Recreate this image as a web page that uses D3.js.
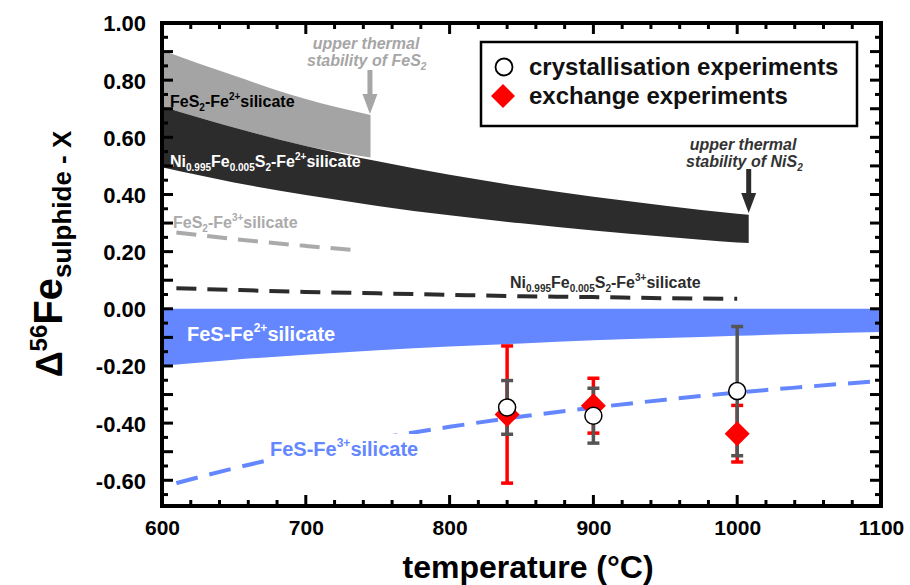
<!DOCTYPE html>
<html>
<head>
<meta charset="utf-8">
<script src="https://cdn.jsdelivr.net/npm/d3@7/dist/d3.min.js"></script>
<style>
  html, body { margin: 0; padding: 0; background: #fff; }
  svg { display: block; font-family: "Liberation Sans", Arial, sans-serif; font-weight: bold; }
</style>
</head>
<body>
<svg id="chart" width="910" height="585"></svg>
<script>
// ---------------- data ----------------
const tempTicks = [600, 700, 800, 900, 1000, 1100];
const yTickValues = [1.0, 0.8, 0.6, 0.4, 0.2, 0.0, -0.2, -0.4, -0.6];
const yTickLabels = ["1.00", "0.80", "0.60", "0.40", "0.20", "0.00", "-0.20", "-0.40", "-0.60"];

// FeS2 - Fe2+ silicate band (light grey)
const fes2Temp  = [600, 650, 700, 745];
const fes2Upper = [0.905, 0.816, 0.734, 0.678];
const fes2Lower = [0.708, 0.634, 0.570, 0.529];

// Ni0.995Fe0.005S2 - Fe2+ silicate band (dark)
const nis2Temp  = [600, 650, 700, 750, 800, 850, 900, 950, 1000, 1008];
const nis2Upper = [0.708, 0.634, 0.570, 0.516, 0.469, 0.428, 0.392, 0.361, 0.333, 0.329];
const nis2Lower = [0.495, 0.442, 0.398, 0.360, 0.327, 0.299, 0.274, 0.252, 0.232, 0.230];

// FeS - Fe2+ silicate band (blue)
const fesTemp  = [600, 650, 700, 750, 800, 850, 900, 950, 1000, 1050, 1100];
const fesUpper = [0.000, 0.000, 0.000, 0.000, 0.000, 0.000, 0.000, 0.000, 0.000, 0.000, 0.000];
const fesLower = [-0.199, -0.178, -0.161, -0.145, -0.132, -0.121, -0.110, -0.102, -0.094, -0.087, -0.081];

// dashed Fe3+ curves
const fes2Fe3Temp  = [610, 650, 700, 735];
const fes2Fe3Value = [0.267, 0.244, 0.220, 0.205];
const niFe3Temp  = [610, 650, 700, 750, 800, 850, 900, 950, 1000];
const niFe3Value = [0.072, 0.066, 0.059, 0.054, 0.049, 0.044, 0.041, 0.037, 0.035];
const fesFe3Temp  = [610, 650, 700, 750, 800, 850, 900, 950, 1000, 1050, 1100];
const fesFe3Value = [-0.610, -0.558, -0.502, -0.454, -0.413, -0.377, -0.346, -0.318, -0.293, -0.272, -0.252];

// experiments
const crystTemp  = [840, 900, 1000];
const crystValue = [-0.345, -0.374, -0.288];
const crystErr   = [0.094, 0.096, 0.226];
const exchTemp  = [840, 900, 1000];
const exchValue = [-0.370, -0.339, -0.437];
const exchErr   = [0.240, 0.096, 0.099];

// ---------------- layout ----------------
const L = 162, R = 881, T = 23, B = 506;
const svg = d3.select("#chart");
const x = d3.scaleLinear().domain([600, 1100]).range([L, R]);
const y = d3.scaleLinear().domain([-0.69, 1.0]).range([B, T]);

const C = {
  grey: "#a4a4a4", dark: "#2c2c2c", blue: "#6487ff", red: "#ff0000", err: "#555555"
};

svg.append("clipPath").attr("id", "plotclip")
  .append("rect").attr("x", L).attr("y", T).attr("width", R - L).attr("height", B - T);

const plot = svg.append("g").attr("clip-path", "url(#plotclip)");

function band(temps, up, lo) {
  const pts = temps.map((t, i) => ({ t, u: up[i], l: lo[i] }));
  return d3.area().x(d => x(d.t)).y0(d => y(d.l)).y1(d => y(d.u)).curve(d3.curveMonotoneX)(pts);
}
function line(temps, vals) {
  const pts = temps.map((t, i) => ({ t, v: vals[i] }));
  return d3.line().x(d => x(d.t)).y(d => y(d.v)).curve(d3.curveMonotoneX)(pts);
}

plot.append("path").attr("d", band(fes2Temp, fes2Upper, fes2Lower)).attr("fill", C.grey);
plot.append("path").attr("d", band(nis2Temp, nis2Upper, nis2Lower)).attr("fill", C.dark);
plot.append("path").attr("d", band(fesTemp, fesUpper, fesLower)).attr("fill", C.blue);

plot.append("path").attr("d", line(fes2Fe3Temp, fes2Fe3Value)).attr("fill", "none")
  .attr("stroke", "#aaaaaa").attr("stroke-width", 4).attr("stroke-dasharray", "20,11");
plot.append("path").attr("d", line(niFe3Temp, niFe3Value)).attr("fill", "none")
  .attr("stroke", C.dark).attr("stroke-width", 4).attr("stroke-dasharray", "20,11");
plot.append("path").attr("d", line(fesFe3Temp, fesFe3Value)).attr("fill", "none")
  .attr("stroke", C.blue).attr("stroke-width", 4).attr("stroke-dasharray", "22,12");

// ---------- band labels ----------
const labels = svg.append("g");
function chem(g, x0, y0, size, fill, parts) {
  const t = g.append("text").attr("x", x0).attr("y", y0).attr("font-size", size).attr("fill", fill);
  const small = Math.round(size * 0.62);
  let level = 0;
  parts.forEach(p => {
    const [txt, kind] = p;
    const target = kind === "sub" ? size * 0.25 : kind === "sup" ? -size * 0.45 : 0;
    const s = t.append("tspan").text(txt).attr("dy", target - level);
    if (kind) s.attr("font-size", small);
    level = target;
  });
  return t;
}
chem(labels, 170, 107, 16, "#000", [["FeS"], ["2", "sub"], ["-Fe"], ["2+", "sup"], ["silicate"]]);
chem(labels, 170, 167, 16, "#fff", [["Ni"], ["0.995", "sub"], ["Fe"], ["0.005", "sub"], ["S"], ["2", "sub"], ["-Fe"], ["2+", "sup"], ["silicate"]]);
chem(labels, 173, 228, 16, "#aaaaaa", [["FeS"], ["2", "sub"], ["-Fe"], ["3+", "sup"], ["silicate"]]);
chem(labels, 510, 288, 16, C.dark, [["Ni"], ["0.995", "sub"], ["Fe"], ["0.005", "sub"], ["S"], ["2", "sub"], ["-Fe"], ["3+", "sup"], ["silicate"]]);
chem(labels, 187, 341, 20, "#fff", [["FeS-Fe"], ["2+", "sup"], ["silicate"]]);
labels.append("rect").attr("x", 264).attr("y", 434).attr("width", 162).attr("height", 30).attr("fill", "#fff");
chem(labels, 270, 456, 20, C.blue, [["FeS-Fe"], ["3+", "sup"], ["silicate"]]);

// ---------- annotations ----------
function arrow(g, cx, y0, y1, color) {
  g.append("line").attr("x1", cx).attr("x2", cx).attr("y1", y0).attr("y2", y1 - 18)
    .attr("stroke", color).attr("stroke-width", 5);
  g.append("path").attr("d", `M${cx - 7.5},${y1 - 20} L${cx + 7.5},${y1 - 20} L${cx},${y1} Z`).attr("fill", color);
}
const ann = svg.append("g").attr("font-style", "italic");
ann.append("text").attr("x", 366).attr("y", 49).attr("text-anchor", "middle").attr("font-size", 16)
  .attr("fill", "#a6a6a6").text("upper thermal");
chem(ann, 307, 66, 16, "#a6a6a6", [["stability of FeS"], ["2", "sub"]]);
arrow(ann, x(744.6), 70, 114, "#a6a6a6");

ann.append("text").attr("x", 743).attr("y", 150).attr("text-anchor", "middle").attr("font-size", 16)
  .attr("fill", "#333").text("upper thermal");
chem(ann, 686, 167, 16, "#333", [["stability of NiS"], ["2", "sub"]]);
arrow(ann, x(1008), 169, 213, "#2c2c2c");

// ---------- error bars & points ----------
const pts = svg.append("g");
function errBars(temps, vals, errs, color) {
  temps.forEach((t, i) => {
    const cx = x(t), y0 = y(vals[i] + errs[i]), y1 = y(vals[i] - errs[i]);
    pts.append("line").attr("x1", cx).attr("x2", cx).attr("y1", y0).attr("y2", y1)
      .attr("stroke", color).attr("stroke-width", 3.5);
    [y0, y1].forEach(yy => pts.append("line").attr("x1", cx - 6).attr("x2", cx + 6)
      .attr("y1", yy).attr("y2", yy).attr("stroke", color).attr("stroke-width", 3.5));
  });
}
errBars(exchTemp, exchValue, exchErr, C.red);
errBars(crystTemp, crystValue, crystErr, C.err);
exchTemp.forEach((t, i) => {
  const cx = x(t), cy = y(exchValue[i]), s = 12.5;
  pts.append("path").attr("d", `M${cx},${cy - s} L${cx + s},${cy} L${cx},${cy + s} L${cx - s},${cy} Z`).attr("fill", C.red);
});
crystTemp.forEach((t, i) => {
  pts.append("circle").attr("cx", x(t)).attr("cy", y(crystValue[i])).attr("r", 8.5)
    .attr("fill", "#fff").attr("stroke", "#000").attr("stroke-width", 1.5);
});

// ---------- legend ----------
const lg = svg.append("g");
lg.append("rect").attr("x", 481).attr("y", 42).attr("width", 376).attr("height", 84)
  .attr("fill", "#fff").attr("stroke", "#000").attr("stroke-width", 2.5);
lg.append("circle").attr("cx", 504).attr("cy", 67).attr("r", 8.5).attr("fill", "#fff").attr("stroke", "#000").attr("stroke-width", 1.8);
lg.append("path").attr("d", "M503,84 L515,96 L503,108 L491,96 Z").attr("fill", C.red);
lg.append("text").attr("x", 529).attr("y", 75).attr("font-size", 24).attr("fill", "#111").text("crystallisation experiments");
lg.append("text").attr("x", 529).attr("y", 104).attr("font-size", 24).attr("fill", "#111").text("exchange experiments");

// ---------- axes frame & ticks ----------
const ax = svg.append("g");
const xMinor = d3.range(600, 1101, 20);
const yMinor = d3.range(-65, 101, 5).map(v => v / 100);
xMinor.forEach(t => {
  const long = t % 100 === 0, len = long ? 11 : 6;
  ax.append("line").attr("x1", x(t)).attr("x2", x(t)).attr("y1", B).attr("y2", B - len).attr("stroke", "#000").attr("stroke-width", 3);
  ax.append("line").attr("x1", x(t)).attr("x2", x(t)).attr("y1", T).attr("y2", T + len).attr("stroke", "#000").attr("stroke-width", 3);
});
yMinor.forEach(v => {
  const long = Math.abs(Math.round(v * 100)) % 10 === 0, len = long ? 11 : 6;
  ax.append("line").attr("x1", L).attr("x2", L + len).attr("y1", y(v)).attr("y2", y(v)).attr("stroke", "#000").attr("stroke-width", 3);
  ax.append("line").attr("x1", R).attr("x2", R - len).attr("y1", y(v)).attr("y2", y(v)).attr("stroke", "#000").attr("stroke-width", 3);
});
ax.append("rect").attr("x", L).attr("y", T).attr("width", R - L).attr("height", B - T)
  .attr("fill", "none").attr("stroke", "#000").attr("stroke-width", 4);

const xAxis = d3.axisBottom(x).tickValues(tempTicks).tickFormat(d3.format("d")).tickSize(0).tickPadding(0);
const gx = svg.append("g").attr("transform", `translate(0,${B})`).call(xAxis);
gx.select(".domain").remove();
gx.selectAll("text").attr("y", 29).attr("dy", 0).attr("font-size", 21).attr("font-family", "Liberation Sans, Arial, sans-serif").attr("font-weight", "bold").attr("fill", "#000");

const yAxis = d3.axisLeft(y).tickValues(yTickValues).tickFormat((d, i) => yTickLabels[i]).tickSize(0).tickPadding(0);
const gy = svg.append("g").attr("transform", `translate(${L},0)`).call(yAxis);
gy.select(".domain").remove();
gy.selectAll("text").attr("x", -16).attr("dy", "0.36em").attr("font-size", 22).attr("font-family", "Liberation Sans, Arial, sans-serif").attr("font-weight", "bold").attr("fill", "#000");

// axis titles
svg.append("text").attr("x", 528).attr("y", 578).attr("text-anchor", "middle").attr("font-size", 32)
  .attr("fill", "#000").text("temperature (°C)");
(function(){
  const t = svg.append("text").attr("transform", "translate(62,254) rotate(-90)").attr("text-anchor", "middle").attr("fill", "#000");
  t.append("tspan").text("Δ").attr("font-size", 36);
  t.append("tspan").text("56").attr("font-size", 24).attr("dy", -15);
  t.append("tspan").text("Fe").attr("font-size", 40).attr("dy", 15);
  t.append("tspan").text("sulphide - X").attr("font-size", 26).attr("dy", 9);
})();
</script>
</body>
</html>
